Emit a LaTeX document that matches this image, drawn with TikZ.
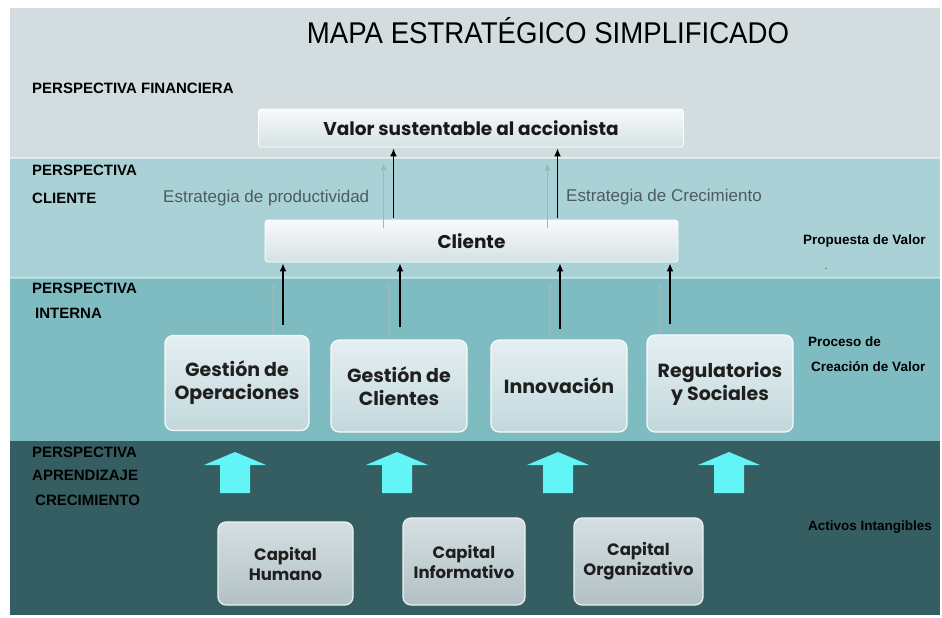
\documentclass[tikz,border=0pt]{standalone}
\usepackage{fontspec}
\setmainfont{Liberation Sans}
\newfontfamily\boxfont{Poppins}
\newfontfamily\titlefont[FakeStretch=0.92]{Liberation Sans}
\usepackage{tikz}
\usetikzlibrary{arrows, arrows.meta}
\definecolor{finband}{HTML}{D3DCDF}
\definecolor{cliband}{HTML}{AAD2D6}
\definecolor{intband}{HTML}{7EBCC2}
\definecolor{aprband}{HTML}{355E62}
\definecolor{boxtop}{HTML}{F7FAFB}
\definecolor{boxbot}{HTML}{D5E1E4}
\definecolor{proctop}{HTML}{E4EFF2}
\definecolor{procbot}{HTML}{C3D8DC}
\definecolor{captop}{HTML}{D5DFE2}
\definecolor{capbot}{HTML}{B2C1C5}
\definecolor{arrgrey}{HTML}{98B8BC}
\definecolor{strat}{HTML}{4C5B5F}
\definecolor{upcyan}{HTML}{62F4F6}
\tikzstyle{wide} = [rectangle, rounded corners=3pt, top color=boxtop, bottom color=boxbot, draw=white, line width=0.8pt, text=black!90, font=\boxfont\bfseries\fontsize{18.5}{22}\selectfont]
\tikzstyle{process} = [rectangle, rounded corners=8pt, top color=proctop, bottom color=procbot, draw=white!70!proctop, line width=1.2pt, align=center, text=black!88, font=\boxfont\bfseries\fontsize{19}{23}\selectfont]
\tikzstyle{capital} = [rectangle, rounded corners=8pt, top color=captop, bottom color=capbot, draw=white!60!captop, line width=1.2pt, align=center, text=black!88, font=\boxfont\bfseries\fontsize{16.5}{20}\selectfont]
\tikzstyle{persp} = [anchor=west, inner sep=0pt, font=\bfseries\fontsize{15}{17}\selectfont]
\tikzstyle{side} = [anchor=west, inner sep=0pt, font=\bfseries\fontsize{13.5}{15}\selectfont]
\tikzstyle{strategy} = [anchor=west, inner sep=0pt, text=strat, font=\fontsize{17}{19}\selectfont]
\tikzstyle{blk} = [line width=1.5pt, black, -{Latex[length=8pt,width=7pt]}]
\tikzstyle{gry} = [line width=1.3pt, arrgrey, -{Latex[length=7pt,width=6pt]}]
\begin{document}
\begin{tikzpicture}[x=1pt,y=-1pt]
\useasboundingbox[fill=white] (0,0) rectangle (942,618);
% the four perspectives
\fill[finband] (10,8) rectangle (940,158);
\fill[cliband] (10,158) rectangle (940,278);
\fill[intband] (10,278) rectangle (940,441);
\fill[aprband] (10,441) rectangle (940,615);
\draw[white, opacity=.5, line width=1.5pt] (10,158) -- (940,158);
\draw[white, opacity=.4, line width=1.5pt] (10,278) -- (940,278);

\node (title) at (548,31) {\titlefont\fontsize{30}{32}\selectfont MAPA ESTRATÉGICO SIMPLIFICADO};

\node (pfin) [persp] at (32,88) {PERSPECTIVA FINANCIERA};
\node (pcli) [persp] at (32,170) {PERSPECTIVA};
\node (pcli2) [persp] at (32,198) {CLIENTE};
\node (pint) [persp] at (32,288) {PERSPECTIVA};
\node (pint2) [persp] at (35,313) {INTERNA};
\node (papr) [persp] at (32,452) {PERSPECTIVA};
\node (papr2) [persp] at (32,475) {APRENDIZAJE};
\node (papr3) [persp] at (35,500) {CRECIMIENTO};

\node (valor) [wide, minimum width=425pt, minimum height=38pt] at (471,128) {Valor sustentable al accionista};
\node (cliente) [wide, minimum width=413pt, minimum height=42pt] at (471.5,241) {Cliente};
\node (eprod) [strategy] at (163,198) {Estrategia de productividad};
\node (ecre) [strategy] at (566,197) {Estrategia de Crecimiento};
\node (prop) [side] at (803,241) {Propuesta de Valor};
\node (dash) [side, font=\fontsize{7}{8}\selectfont] at (825,269) {-};

\node (gop) [process, minimum width=144pt, minimum height=95pt] at (237,383) {Gestión de\\Operaciones};
\node (gcl) [process, minimum width=136pt, minimum height=92pt] at (399,386) {Gestión de\\Clientes};
\node (inn) [process, minimum width=136pt, minimum height=92pt] at (559,386) {Innovación};
\node (reg) [process, minimum width=146pt, minimum height=97pt] at (720,383.5) {Regulatorios\\y Sociales};
\node (proc) [side] at (808,342) {Proceso de};
\node (proc2) [side] at (811,367) {Creación de Valor};

\node (chu) [capital, minimum width=135pt, minimum height=83pt] at (285.5,563.5) {Capital\\Humano};
\node (cin) [capital, minimum width=122pt, minimum height=87pt] at (464,561.5) {Capital\\Informativo};
\node (corg) [capital, minimum width=129pt, minimum height=87pt] at (638.5,561.5) {Capital\\Organizativo};
\node (activos) [side] at (808,527) {Activos Intangibles};

% cliente -> valor
\draw [gry, shorten >=16pt] ([xshift=-88pt,yshift=-8pt]cliente.north) -- ([xshift=-88pt]cliente.north |- valor.south);
\draw [blk, shorten >=1pt] ([xshift=-78pt,yshift=2pt]cliente.north) -- ([xshift=-78pt]cliente.north |- valor.south);
\draw [gry, shorten >=16pt] ([xshift=76pt,yshift=-8pt]cliente.north) -- ([xshift=76pt]cliente.north |- valor.south);
\draw [blk, shorten >=1pt] ([xshift=86pt,yshift=2pt]cliente.north) -- ([xshift=86pt]cliente.north |- valor.south);

% procesos -> cliente
\draw [gry, shorten >=20pt] ([xshift=36pt]gop.north) -- ([xshift=36pt]gop.north |- cliente.south);
\draw [blk, shorten <=10pt, shorten >=1pt] ([xshift=46pt]gop.north) -- ([xshift=46pt]gop.north |- cliente.south);
\draw [gry, shorten >=20pt] ([xshift=-10pt]gcl.north) -- ([xshift=-10pt]gcl.north |- cliente.south);
\draw [blk, shorten <=12pt, shorten >=1pt] ([xshift=1pt]gcl.north) -- ([xshift=1pt]gcl.north |- cliente.south);
\draw [gry, shorten >=20pt] ([xshift=-9pt]inn.north) -- ([xshift=-9pt]inn.north |- cliente.south);
\draw [blk, shorten <=10pt, shorten >=1pt] ([xshift=1pt]inn.north) -- ([xshift=1pt]inn.north |- cliente.south);
\draw [gry, shorten >=20pt] ([xshift=-60pt]reg.north) -- ([xshift=-60pt]reg.north |- cliente.south);
\draw [blk, shorten <=10pt, shorten >=1pt] ([xshift=-50pt]reg.north) -- ([xshift=-50pt]reg.north |- cliente.south);

% flechas de los activos
\fill[upcyan] (220,493) -- (220,465) -- (204,465) -- (235,452) -- (266,465) -- (250,465) -- (250,493) -- cycle;
\fill[upcyan] (382,493) -- (382,465) -- (366,465) -- (397,452) -- (428,465) -- (412,465) -- (412,493) -- cycle;
\fill[upcyan] (543,493) -- (543,465) -- (527,465) -- (558,452) -- (589,465) -- (573,465) -- (573,493) -- cycle;
\fill[upcyan] (714,493) -- (714,465) -- (698,465) -- (729,452) -- (760,465) -- (744,465) -- (744,493) -- cycle;
\end{tikzpicture}
\end{document}
